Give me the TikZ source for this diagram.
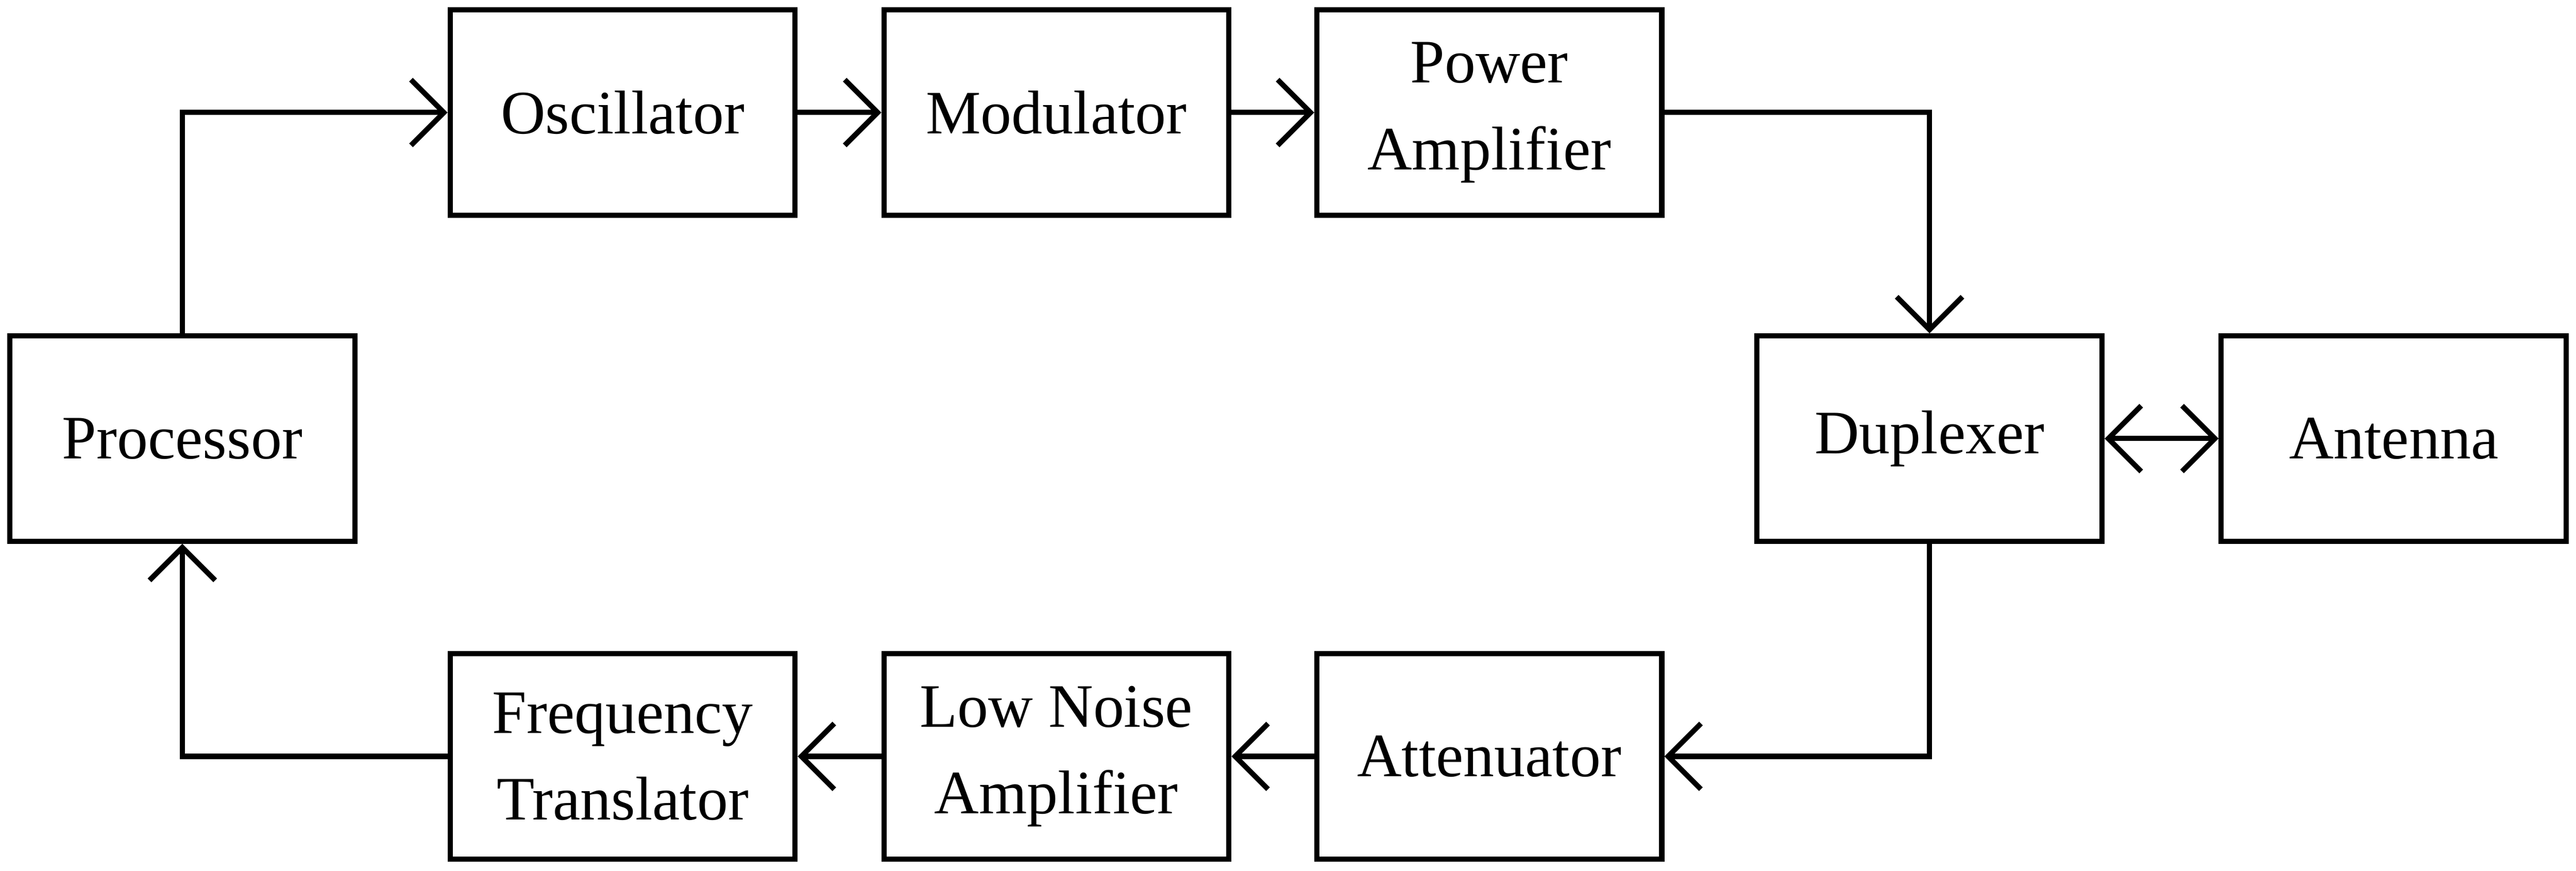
\documentclass[tikz,border=0pt]{standalone}
\usepackage{fontspec}
\setmainfont{Liberation Serif}
\usetikzlibrary{arrows.meta}
\tikzstyle{block} = [draw, rectangle, line width=0.9pt, align=center,
    minimum height=1.25cm, minimum width=2.1cm, font=\fontsize{10.7}{13}\selectfont]
\tikzstyle{link} = [line width=0.9pt, -{Straight Barb[length=2mm,width=4mm]}]
\begin{document}
\begin{tikzpicture}
	\useasboundingbox (0,0) rectangle (15.68,5.30);

	% Transmit chain
	\node [block] (osc) at (3.79,4.615) {Oscillator};
	\node [block] (mod) at (6.43,4.615) {Modulator};
	\node [block] (pa) at (9.065,4.615) {Power\\[2pt]Amplifier};

	% Middle row
	\node [block] (proc) at (1.11,2.63) {Processor};
	\node [block] (dup) at (11.745,2.63) {Duplexer};
	\node [block] (ant) at (14.57,2.63) {Antenna};

	% Receive chain
	\node [block] (att) at (9.065,0.695) {Attenuator};
	\node [block] (lna) at (6.43,0.695) {Low Noise\\[2pt]Amplifier};
	\node [block] (ft) at (3.79,0.695) {Frequency\\[2pt]Translator};

	% Connections
	\draw [link] (proc.north) |- (osc.west);
	\draw [link] (osc) -- (mod);
	\draw [link] (mod) -- (pa);
	\draw [link] (pa.east) -| (dup.north);
	\draw [link, {Straight Barb[length=2mm,width=4mm]}-{Straight Barb[length=2mm,width=4mm]}] (dup) -- (ant);
	\draw [link] (dup.south) |- (att.east);
	\draw [link] (att) -- (lna);
	\draw [link] (lna) -- (ft);
	\draw [link] (ft.west) -| (proc.south);
\end{tikzpicture}
\end{document}
